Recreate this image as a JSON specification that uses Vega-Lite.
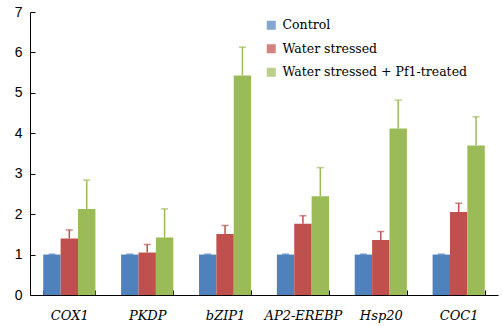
{
  "$schema": "https://vega.github.io/schema/vega-lite/v6.json",
  "width": 468,
  "height": 283,
  "autosize": {"type": "none"},
  "padding": {"left": 30, "top": 12, "right": 5, "bottom": 31},
  "background": "white",
  "config": {
    "view": {"stroke": null}
  },
  "data": {
    "values": [
      {"gene": "COX1", "group": "Control", "value": 1.0, "err": 1.01},
      {"gene": "COX1", "group": "Water stressed", "value": 1.40, "err": 1.61},
      {"gene": "COX1", "group": "Water stressed + Pf1-treated", "value": 2.13, "err": 2.84},
      {"gene": "PKDP", "group": "Control", "value": 1.0, "err": 1.01},
      {"gene": "PKDP", "group": "Water stressed", "value": 1.05, "err": 1.25},
      {"gene": "PKDP", "group": "Water stressed + Pf1-treated", "value": 1.42, "err": 2.13},
      {"gene": "bZIP1", "group": "Control", "value": 1.0, "err": 1.01},
      {"gene": "bZIP1", "group": "Water stressed", "value": 1.51, "err": 1.72},
      {"gene": "bZIP1", "group": "Water stressed + Pf1-treated", "value": 5.43, "err": 6.13},
      {"gene": "AP2-EREBP", "group": "Control", "value": 1.0, "err": 1.01},
      {"gene": "AP2-EREBP", "group": "Water stressed", "value": 1.76, "err": 1.96},
      {"gene": "AP2-EREBP", "group": "Water stressed + Pf1-treated", "value": 2.44, "err": 3.15},
      {"gene": "Hsp20", "group": "Control", "value": 1.0, "err": 1.01},
      {"gene": "Hsp20", "group": "Water stressed", "value": 1.36, "err": 1.57},
      {"gene": "Hsp20", "group": "Water stressed + Pf1-treated", "value": 4.12, "err": 4.82},
      {"gene": "COC1", "group": "Control", "value": 1.0, "err": 1.01},
      {"gene": "COC1", "group": "Water stressed", "value": 2.05, "err": 2.27},
      {"gene": "COC1", "group": "Water stressed + Pf1-treated", "value": 3.70, "err": 4.41}
    ]
  },
  "encoding": {
    "x": {
      "field": "gene", "type": "nominal", "sort": null,
      "scale": {"paddingInner": 0.33, "paddingOuter": 0.17},
      "axis": {
        "title": null, "labelAngle": 0, "tickBand": "extent",
        "labelFont": "DejaVu Serif", "labelFontStyle": "italic", "labelFontSize": 13,
        "labelColor": "black", "labelPadding": 19,
        "domainColor": "black", "tickColor": "black", "tickSize": -5
      }
    },
    "xOffset": {"field": "group", "type": "nominal", "sort": ["Control", "Water stressed", "Water stressed + Pf1-treated"]},
    "color": {
      "field": "group", "type": "nominal",
      "sort": ["Control", "Water stressed", "Water stressed + Pf1-treated"],
      "scale": {"domain": ["Control", "Water stressed", "Water stressed + Pf1-treated"], "range": ["#4F81BD", "#C0504D", "#9BBB59"]},
      "legend": {
        "title": null, "orient": "none", "legendX": 235, "legendY": 7,
        "symbolType": "square", "symbolSize": 81, "symbolStrokeWidth": 0,
        "labelFont": "DejaVu Serif", "labelFontSize": 12.5, "labelColor": "black",
        "labelOffset": 5, "rowPadding": 10.5, "padding": 0, "labelLimit": 300
      }
    }
  },
  "layer": [
    {
      "mark": {"type": "bar"},
      "encoding": {
        "y": {
          "field": "value", "type": "quantitative",
          "scale": {"domain": [0, 7], "nice": false},
          "axis": {
            "title": null, "values": [0, 1, 2, 3, 4, 5, 6, 7], "grid": false,
            "labelFont": "Liberation Sans", "labelFontSize": 14, "labelColor": "black",
            "labelPadding": 13, "domainColor": "black", "tickColor": "black", "tickSize": -5
          }
        }
      }
    },
    {
      "mark": {"type": "rule", "strokeWidth": 1.5},
      "encoding": {
        "y": {"field": "value", "type": "quantitative"},
        "y2": {"field": "err"}
      }
    },
    {
      "mark": {"type": "tick", "orient": "horizontal", "size": 7, "thickness": 1.5},
      "encoding": {
        "y": {"field": "err", "type": "quantitative"}
      }
    }
  ]
}
